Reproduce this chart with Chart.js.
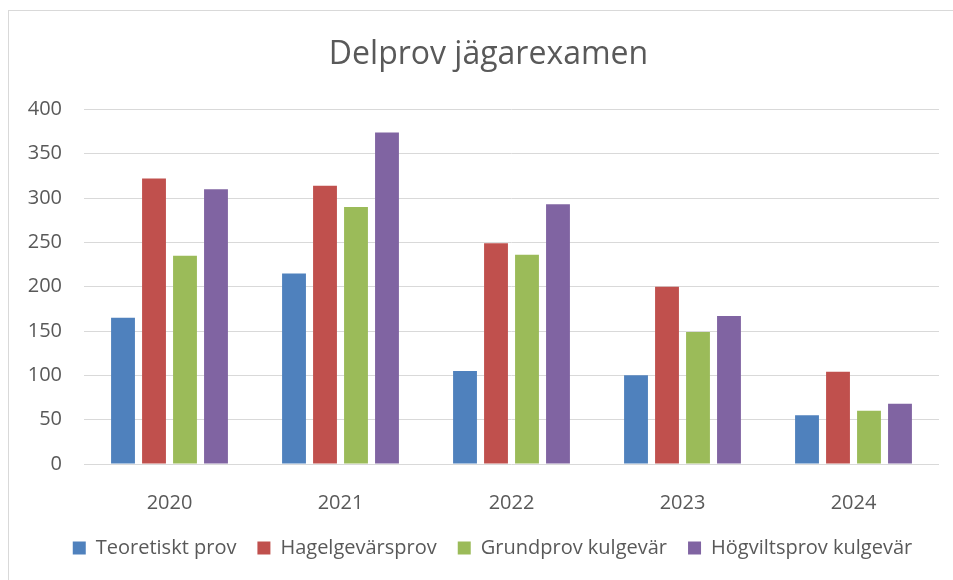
<!DOCTYPE html>
<html>
<head>
<meta charset="utf-8">
<script src="https://cdn.jsdelivr.net/npm/chart.js@4"></script>
<style>
  html, body { margin: 0; padding: 0; background: #fff; overflow: hidden; }
  #frame { position: absolute; left: 8px; top: 10px; width: 980px; height: 620px; border: 1px solid #d9d9d9; }
  #wrap { position: absolute; left: 0; top: 0; width: 953px; height: 580px; }
</style>
</head>
<body>
<div id="frame"></div>
<div id="wrap"><canvas id="chart"></canvas></div>
<script>
const years = ["2020", "2021", "2022", "2023", "2024"];
const teoretiskt = [165, 215, 105, 100, 55];
const hagel = [322, 314, 249, 200, 104];
const grundprov = [235, 290, 236, 149, 60];
const hogvilt = [310, 374, 293, 167, 68];
const yTicks = [0, 50, 100, 150, 200, 250, 300, 350, 400];

const textColor = "#595959";
const font = "'Open Sans', sans-serif";

// in the original, title and legend sit a bit right of the canvas centre
const shiftBoxes = {
    id: "shiftBoxes",
    afterLayout(chart) {
        const move = (box, dx) => { if (box) { box.left += dx; box.right += dx; } };
        move(chart.titleBlock, 19);
        move(chart.legend, 23);
    },
};

const ctx = document.getElementById("chart").getContext("2d");

new Chart(ctx, {
    type: "bar",
    data: {
        labels: years,
        datasets: [
            { label: "Teoretiskt prov", data: teoretiskt, backgroundColor: "#4f81bd" },
            { label: "Hagelgevärsprov", data: hagel, backgroundColor: "#c0504d" },
            { label: "Grundprov kulgevär", data: grundprov, backgroundColor: "#9bbb59" },
            { label: "Högviltsprov kulgevär", data: hogvilt, backgroundColor: "#8064a2" },
        ],
    },
    plugins: [shiftBoxes],
    options: {
        responsive: true,
        maintainAspectRatio: false,
        animation: false,
        categoryPercentage: 0.725,
        barPercentage: 0.77,
        layout: { padding: { left: 0, right: 14, top: 0, bottom: 12 } },
        plugins: {
            tooltip: { enabled: false },
            title: {
                display: true,
                text: "Delprov jägarexamen",
                color: textColor,
                font: { family: font, size: 32, weight: "normal" },
                padding: { top: 36, bottom: 35 },
            },
            legend: {
                position: "bottom",
                labels: {
                    color: textColor,
                    font: { family: font, size: 20 },
                    boxWidth: 13,
                    boxHeight: 13,
                    padding: 21,
                },
            },
        },
        scales: {
            x: {
                grid: { display: false },
                border: { display: false },
                ticks: { color: textColor, font: { family: font, size: 20 }, padding: 19 },
                afterFit: (scale) => { scale.height = 53; },
            },
            y: {
                min: 0,
                max: 400,
                afterBuildTicks: (scale) => { scale.ticks = yTicks.map(v => ({ value: v })); },
                grid: { color: "#d9d9d9", lineWidth: 1, drawTicks: false },
                border: { display: false },
                ticks: { color: textColor, font: { family: font, size: 20 }, padding: 22 },
                afterFit: (scale) => { scale.width = 84; },
            },
        },
    },
});
</script>
</body>
</html>
